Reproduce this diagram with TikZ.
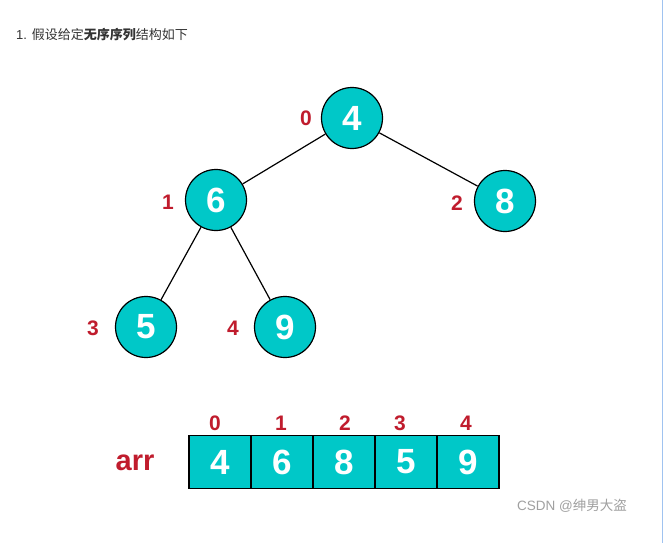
\documentclass[tikz,border=0pt]{standalone}
\usepackage{fontspec}
\setmainfont{Liberation Sans}
\newfontfamily\cjk{Noto Sans CJK SC}
\definecolor{tealfill}{RGB}{0,200,200}
\definecolor{idxred}{RGB}{192,28,45}
\definecolor{titlegray}{RGB}{51,51,51}
\definecolor{wmgray}{RGB}{160,160,160}
\definecolor{edgeblue}{RGB}{160,195,240}
\begin{document}
\begin{tikzpicture}[x=1pt,y=-1pt,
  treenode/.style={circle,draw=black,line width=1.2pt,fill=tealfill,minimum size=61pt,inner sep=0pt,text=white,font=\fontsize{35}{35}\selectfont\bfseries},
  idx/.style={text=idxred,font=\fontsize{21}{21}\selectfont\bfseries,inner sep=0pt},
  cell/.style={draw=black,line width=1.2pt,fill=tealfill,minimum width=62pt,minimum height=53pt,inner sep=0pt,text=white,font=\fontsize{35}{35}\selectfont\bfseries},
  link/.style={draw=black,line width=1.2pt}]
\useasboundingbox[fill=white] (0,0) rectangle (663,543);
\draw[edgeblue,line width=1pt] (662,0) -- (662,543);
% title
\node[anchor=west,inner sep=0pt,text=titlegray,font=\fontsize{13}{13}\selectfont] (title) at (16,35) {1. {\cjk 假设给定\textbf{无序序列}结构如下}};
% tree
\node[treenode] (n0) at (352,118) {4};
\node[treenode] (n1) at (216,200) {6};
\node[treenode] (n2) at (505,201) {8};
\node[treenode] (n3) at (146,327) {5};
\node[treenode] (n4) at (285,327) {9};
\draw[link] (n0) -- (n1);
\draw[link] (n0) -- (n2);
\draw[link] (n1) -- (n3);
\draw[link] (n1) -- (n4);
\node[idx] (l0) at (306,118) {0};
\node[idx] (l1) at (168,202) {1};
\node[idx] (l2) at (457,203) {2};
\node[idx] (l3) at (93,328) {3};
\node[idx] (l4) at (233,328) {4};
% array
\node[cell] (c0) at (220,462) {4};
\node[cell] (c1) at (282,462) {6};
\node[cell] (c2) at (344,462) {8};
\node[cell] (c3) at (406,462) {5};
\node[cell] (c4) at (468,462) {9};
\node[idx] (a0) at (215,423) {0};
\node[idx] (a1) at (281,423) {1};
\node[idx] (a2) at (345,423) {2};
\node[idx] (a3) at (400,423) {3};
\node[idx] (a4) at (466,423) {4};
\node[text=idxred,font=\fontsize{29}{29}\selectfont\bfseries,inner sep=0pt] (arr) at (135,463) {arr};
% watermark
\node[anchor=west,inner sep=0pt,text=wmgray,font=\fontsize{13.5}{13.5}\selectfont] (wm) at (517,506) {CSDN @{\cjk 绅男大盗}};
\end{tikzpicture}
\end{document}
